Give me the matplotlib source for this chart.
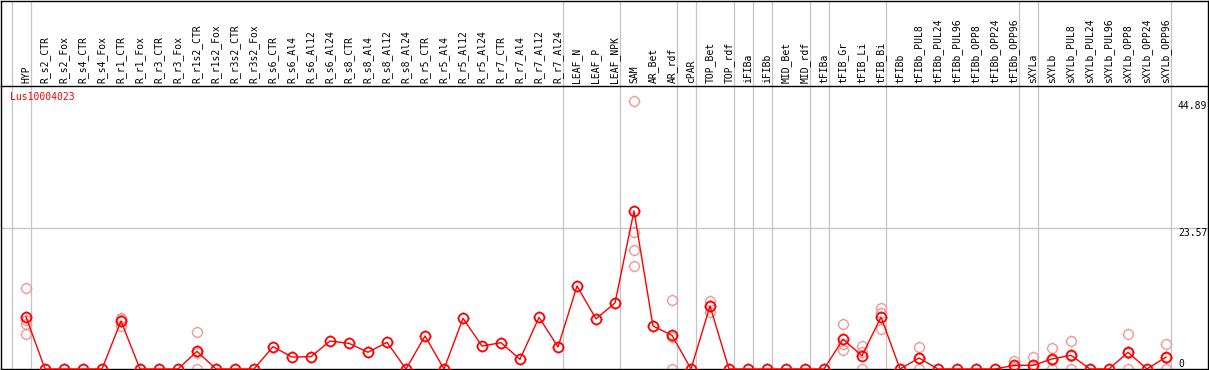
import numpy as np
import matplotlib.pyplot as plt
from matplotlib.path import Path

# Amostras (colunas)
samples = ['HYP', 'R_s2_CTR', 'R_s2_Fox', 'R_s4_CTR', 'R_s4_Fox', 'R_r1_CTR', 'R_r1_Fox',
           'R_r3_CTR', 'R_r3_Fox', 'R_r1s2_CTR', 'R_r1s2_Fox', 'R_r3s2_CTR', 'R_r3s2_Fox',
           'R_s6_CTR', 'R_s6_Al4', 'R_s6_Al12', 'R_s6_Al24', 'R_s8_CTR', 'R_s8_Al4',
           'R_s8_Al12', 'R_s8_Al24', 'R_r5_CTR', 'R_r5_Al4', 'R_r5_Al12', 'R_r5_Al24',
           'R_r7_CTR', 'R_r7_Al4', 'R_r7_Al12', 'R_r7_Al24', 'LEAF_N', 'LEAF_P', 'LEAF_NPK',
           'SAM', 'AR_Bet', 'AR_rdf', 'cPAR', 'TOP_Bet', 'TOP_rdf', 'iFIBa', 'iFIBb',
           'MID_Bet', 'MID_rdf', 'tFIBa', 'tFIB_Gr', 'tFIB_Li', 'tFIB_Bi', 'tFIBb',
           'tFIBb_PUL8', 'tFIBb_PUL24', 'tFIBb_PUL96', 'tFIBb_OPP8', 'tFIBb_OPP24',
           'tFIBb_OPP96', 'sXYLa', 'sXYLb', 'sXYLb_PUL8', 'sXYLb_PUL24', 'sXYLb_PUL96',
           'sXYLb_OPP8', 'sXYLb_OPP24', 'sXYLb_OPP96']

# Media por amostra
mean_vals = [8.76, 0, 0, 0, 0, 8.04, 0, 0, 0, 2.96, 0, 0, 0,
             3.74, 2.0, 2.06, 4.69, 4.3, 2.8, 4.47, 0, 5.53, 0, 8.49, 3.85, 4.41, 1.62,
             8.66, 3.69, 13.9, 8.4, 11.06, 26.5, 7.2, 5.64, 0, 10.55, 0,
             0, 0, 0, 0, 0, 4.97, 2.23, 8.71, 0, 1.84, 0, 0, 0, 0,
             0.62, 0.62, 1.68, 2.29, 0, 0, 2.8, 0, 2.0]

# Replicas visiveis
rep_samples = ['HYP', 'R_r1_CTR', 'R_r1s2_CTR', 'SAM', 'AR_rdf', 'TOP_Bet', 'tFIB_Gr',
               'tFIB_Li', 'tFIB_Bi', 'tFIBb_PUL8', 'tFIBb_OPP96', 'sXYLa', 'sXYLb',
               'sXYLb_PUL8', 'sXYLb_OPP8', 'sXYLb_OPP96']
rep_values = [[13.5, 8.2, 7.5, 5.8], [8.6, 8.3, 7.2], [6.15, 2.7, 0],
              [44.89, 23.0, 19.9, 17.25], [11.56, 5.4, 0], [11.4, 10.6, 9.6],
              [7.49, 4.2, 3.18], [3.85, 2.8, 0], [10.2, 9.4, 6.65], [3.69, 1.8, 0],
              [1.39, 0.4, 0], [2.0, 0, 0], [3.52, 1.5, 0], [4.69, 2.2, 0],
              [5.8, 2.6, 0], [4.14, 1.9, 0]]

# Separadores de grupo (depois destas amostras)
sep_after = [-1, 0, 28, 31, 34, 35, 37, 38, 39, 41, 42, 45, 52, 53, 60]

y_ticks = [0, 23.57, 44.89]
gene = 'Lus10004023'

x = np.arange(len(samples))
W, H = 1209, 370
fig = plt.figure(figsize=(W / 100, H / 100), dpi=100)

xlim = ((1 - 26) / 19, (1208 - 26) / 19)
ymax = 283 * 23.57 / 140.7

ax = fig.add_axes([1 / W, 1 / H, 1207 / W, 283 / H])
hax = fig.add_axes([1 / W, 284 / H, 1207 / W, 85.5 / H])
for a in (ax, hax):
    a.set_xlim(xlim)
    a.set_xticks([])
    a.set_yticks([])
    for s in a.spines.values():
        s.set_linewidth(1.0)
        s.set_color('black')
    for i in sep_after:
        a.axvline(i + 0.25, color='#c4c4c4', lw=0.9, zorder=0)
ax.set_ylim(0, ymax)
hax.set_ylim(0, 1)
ax.spines['top'].set_visible(False)

ax.axhline(23.57, color='#c4c4c4', lw=0.9, zorder=0)

# tracos pequenos em volta do circulo
tick_mk = Path([(0, 1), (0, 1.3), (0, -1), (0, -1.3), (1, 0), (1.3, 0), (-1, 0), (-1.3, 0)],
               [Path.MOVETO, Path.LINETO] * 4)

rx, ry = [], []
for name, vals in zip(rep_samples, rep_values):
    for v in vals:
        rx.append(samples.index(name))
        ry.append(v)
ax.plot(rx, ry, ls='none', marker='o', ms=7, mfc='none', mec='#ee9a9a', mew=1.0,
        clip_on=False, zorder=2)
ax.plot(rx, ry, ls='none', marker=tick_mk, ms=9.1, mec='#ee9a9a', mew=0.8,
        clip_on=False, zorder=2)
ax.plot(x, mean_vals, color='red', lw=1.0, zorder=3, clip_on=False)
ax.plot(x, mean_vals, ls='none', marker='o', ms=7, mfc='none', mec='red', mew=1.3,
        clip_on=False, zorder=4)
ax.plot(x, mean_vals, ls='none', marker=tick_mk, ms=9.1, mec='red', mew=1.0,
        clip_on=False, zorder=4)

font = 'DejaVu Sans Mono'
for i, s in enumerate(samples):
    hax.text(i, 3 / 85.5, s, rotation=90, ha='center', va='bottom', fontsize=7,
             family=font)

ax.text(9 / 1207, 1 - 6 / 283, gene, transform=ax.transAxes, color='red',
        fontsize=7, family=font, va='top', ha='left')

for v in y_ticks:
    ax.text((1178 - 26) / 19, v, f'{v:g}', fontsize=7, family=font, ha='left',
            va='bottom' if v == 0 else 'top')

fig.savefig('out.png', dpi=100)
